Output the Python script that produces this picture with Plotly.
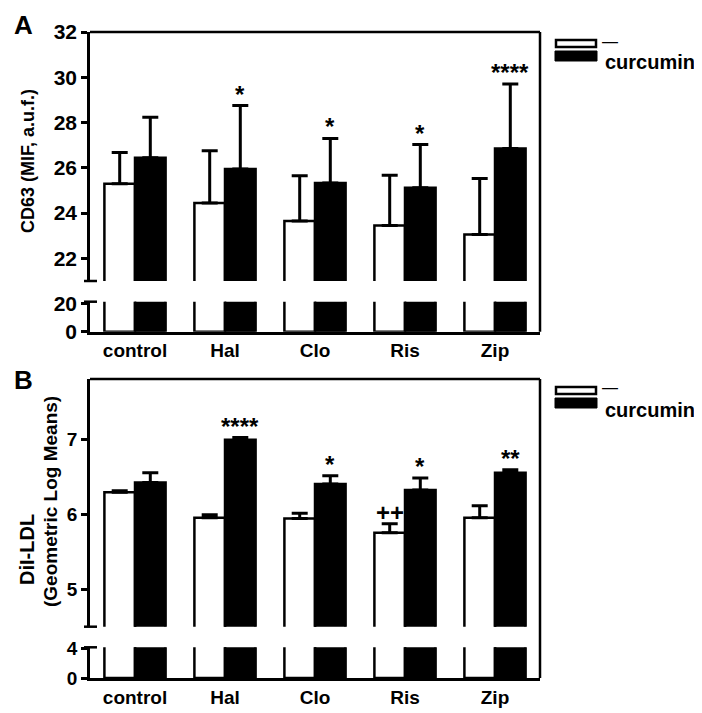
import plotly.graph_objects as go

# ---------------- data ----------------
categories = ["control", "Hal", "Clo", "Ris", "Zip"]

# Panel A: CD63 (MIF, a.u.f.)
a_vehicle = [25.30, 24.45, 23.65, 23.45, 23.05]
a_vehicle_err = [1.38, 2.30, 2.00, 2.22, 2.48]
a_curcumin = [26.45, 25.95, 25.33, 25.12, 26.85]
a_curcumin_err = [1.78, 2.80, 1.97, 1.91, 2.85]
a_curcumin_sig = ["", "*", "*", "*", "****"]

# Panel B: DiI-LDL (Geometric Log Means)
b_vehicle = [6.29, 5.95, 5.94, 5.75, 5.95]
b_vehicle_err = [0.02, 0.04, 0.07, 0.12, 0.16]
b_vehicle_sig = ["", "", "", "++", ""]
b_curcumin = [6.42, 6.99, 6.40, 6.32, 6.55]
b_curcumin_err = [0.13, 0.03, 0.11, 0.16, 0.04]
b_curcumin_sig = ["", "****", "*", "*", "**"]

series_names = ["\u2014", "curcumin"]

a_upper_ticks = [22, 24, 26, 28, 30, 32]
a_lower_ticks = [0, 20]
b_upper_ticks = [5, 6, 7]
b_lower_ticks = [0, 4]

# ---------------- layout helpers ----------------
OFF = 8                      # page body margin in the browser
W, H = 702 - OFF, 713 - OFF
L, R, T, B = 90 - OFF, 162, 32 - OFF, 35
PW, PH = W - L - R, H - T - B


def px(xp):
    """reference-image x pixel -> paper fraction"""
    return (xp - OFF - L) / PW


def py(yp):
    """reference-image y pixel -> paper fraction"""
    return (H - B - (yp - OFF)) / PH


FONT = "Liberation Sans, Arial, sans-serif"
LW = 2.5
BARLINE = 2.5

dom_a_up = [py(281), py(32)]
dom_a_lo = [py(331.7), py(301.7)]
dom_b_up = [py(626.7), py(379)]
dom_b_lo = [py(678), py(647.3)]

fig = go.Figure()

panels = [
    ("x", "y", a_vehicle, a_vehicle_err, a_curcumin, a_curcumin_err, True),
    ("x2", "y2", a_vehicle, a_vehicle_err, a_curcumin, a_curcumin_err, False),
    ("x3", "y3", b_vehicle, b_vehicle_err, b_curcumin, b_curcumin_err, True),
    ("x4", "y4", b_vehicle, b_vehicle_err, b_curcumin, b_curcumin_err, False),
]

for xa, ya, veh, veh_err, cur, cur_err, with_err in panels:
    fig.add_trace(go.Bar(
        x=categories, y=veh, name=series_names[0], xaxis=xa, yaxis=ya,
        marker=dict(color="white", line=dict(color="black", width=BARLINE)),
        error_y=dict(type="data", array=veh_err, arrayminus=[0] * len(veh),
                     symmetric=False, color="black", thickness=3, width=8,
                     visible=with_err),
        showlegend=False,
    ))
    fig.add_trace(go.Bar(
        x=categories, y=cur, name=series_names[1], xaxis=xa, yaxis=ya,
        marker=dict(color="black", line=dict(color="black", width=BARLINE)),
        error_y=dict(type="data", array=cur_err, arrayminus=[0] * len(cur),
                     symmetric=False, color="black", thickness=3, width=8,
                     visible=with_err),
        showlegend=False,
    ))

xcommon = dict(type="category", range=[-0.5, 4.5], domain=[0, 1],
               showgrid=False, zeroline=False, automargin=False)
ycommon = dict(showgrid=False, zeroline=False, showline=True, linecolor="black",
               linewidth=LW, ticks="outside", ticklen=6, tickwidth=LW,
               tickcolor="black", automargin=False)

fig.update_layout(
    template="none",
    width=W, height=H,
    margin=dict(l=L, r=R, t=T, b=B, autoexpand=False),
    paper_bgcolor="white", plot_bgcolor="white",
    barmode="group", bargap=0.32, bargroupgap=0.0,
    showlegend=False,
    font=dict(family=FONT, color="black"),
    xaxis=dict(xcommon, anchor="y", visible=False),
    xaxis2=dict(xcommon, anchor="y2", matches="x", showline=True, linecolor="black",
                linewidth=LW, ticks="",
                tickfont=dict(family=FONT, size=19, color="black", weight="bold")),
    xaxis3=dict(xcommon, anchor="y3", matches="x", visible=False),
    xaxis4=dict(xcommon, anchor="y4", matches="x", showline=True, linecolor="black",
                linewidth=LW, ticks="",
                tickfont=dict(family=FONT, size=19, color="black", weight="bold")),
    yaxis=dict(ycommon, anchor="x", domain=dom_a_up, range=[21, 32],
               tickvals=a_upper_ticks,
               tickfont=dict(family=FONT, size=21, color="black", weight="bold")),
    yaxis2=dict(ycommon, anchor="x2", domain=dom_a_lo, range=[0, 21.1],
                tickvals=a_lower_ticks,
                tickfont=dict(family=FONT, size=21, color="black", weight="bold")),
    yaxis3=dict(ycommon, anchor="x3", domain=dom_b_up, range=[4.5, 7.8],
                tickvals=b_upper_ticks,
                tickfont=dict(family=FONT, size=19, color="black", weight="bold")),
    yaxis4=dict(ycommon, anchor="x4", domain=dom_b_lo, range=[0, 4.13],
                tickvals=b_lower_ticks,
                tickfont=dict(family=FONT, size=19, color="black", weight="bold")),
)

shapes = []
# frame: top and right borders for each panel, plus axis-break caps
for up, lo in [(dom_a_up, dom_a_lo), (dom_b_up, dom_b_lo)]:
    shapes.append(dict(type="line", xref="paper", yref="paper", x0=0, x1=1,
                       y0=up[1], y1=up[1], line=dict(color="black", width=LW)))
    shapes.append(dict(type="line", xref="paper", yref="paper", x0=1, x1=1,
                       y0=lo[0], y1=up[1], line=dict(color="black", width=LW)))
    shapes.append(dict(type="line", xref="paper", yref="paper", xsizemode="pixel",
                       xanchor=0, x0=-6, x1=7, y0=up[0], y1=up[0],
                       line=dict(color="black", width=LW)))
    shapes.append(dict(type="line", xref="paper", yref="paper", xsizemode="pixel",
                       xanchor=0, x0=-6, x1=7, y0=lo[1], y1=lo[1],
                       line=dict(color="black", width=LW)))

annotations = []
# custom legends (wide swatches like the original)
for dy in (0, 347):
    shapes.append(dict(type="rect", xref="paper", yref="paper",
                       x0=px(556), x1=px(596), y0=py(47 + dy), y1=py(40 + dy),
                       fillcolor="white", line=dict(color="black", width=LW)))
    shapes.append(dict(type="rect", xref="paper", yref="paper",
                       x0=px(555), x1=px(597), y0=py(61 + dy), y1=py(51 + dy),
                       fillcolor="black", line=dict(color="black", width=1)))
    annotations.append(dict(xref="paper", yref="paper", x=px(600), y=py(41 + dy),
                            text=series_names[0], showarrow=False, xanchor="left",
                            yanchor="middle",
                            font=dict(family=FONT, size=16, color="black")))
    annotations.append(dict(xref="paper", yref="paper", x=px(603), y=py(62.5 + dy),
                            text=series_names[1], showarrow=False, xanchor="left",
                            yanchor="middle",
                            font=dict(family=FONT, size=20, color="black", weight="bold")))


# significance markers
def add_sig(xref, yref, vals, errs, sigs, offset):
    for i, (v, e, s) in enumerate(zip(vals, errs, sigs)):
        if s:
            annotations.append(dict(xref=xref, yref=yref, x=i + offset, y=v + e,
                                    text=s, showarrow=False, xanchor="center",
                                    yanchor="bottom", yshift=-4,
                                    font=dict(family=FONT, size=24, color="black",
                                              weight="bold")))


add_sig("x", "y", a_curcumin, a_curcumin_err, a_curcumin_sig, 0.17)
add_sig("x3", "y3", b_curcumin, b_curcumin_err, b_curcumin_sig, 0.17)
add_sig("x3", "y3", b_vehicle, b_vehicle_err, b_vehicle_sig, -0.17)

# panel letters
annotations.append(dict(xref="paper", yref="paper", x=px(23), y=1.0 + T / PH, text="A",
                        showarrow=False, xanchor="center", yanchor="top",
                        font=dict(family=FONT, size=26, color="black", weight="bold")))
annotations.append(dict(xref="paper", yref="paper", x=px(23), y=py(380), text="B",
                        showarrow=False, xanchor="center", yanchor="middle",
                        font=dict(family=FONT, size=26, color="black", weight="bold")))

# y-axis titles
annotations.append(dict(xref="paper", yref="paper", x=px(28), y=py(161),
                        text="CD63 (MIF, a.u.f.)", textangle=-90, showarrow=False,
                        xanchor="center", yanchor="middle",
                        font=dict(family=FONT, size=18, color="black", weight="bold")))
annotations.append(dict(xref="paper", yref="paper", x=px(27), y=py(549),
                        text="DiI-LDL", textangle=-90, showarrow=False,
                        xanchor="center", yanchor="middle",
                        font=dict(family=FONT, size=20, color="black", weight="bold")))
annotations.append(dict(xref="paper", yref="paper", x=px(50), y=py(502),
                        text="(Geometric Log Means)", textangle=-90, showarrow=False,
                        xanchor="center", yanchor="middle",
                        font=dict(family=FONT, size=19, color="black", weight="bold")))

fig.update_layout(shapes=shapes, annotations=annotations)

fig.write_html("out.html")
